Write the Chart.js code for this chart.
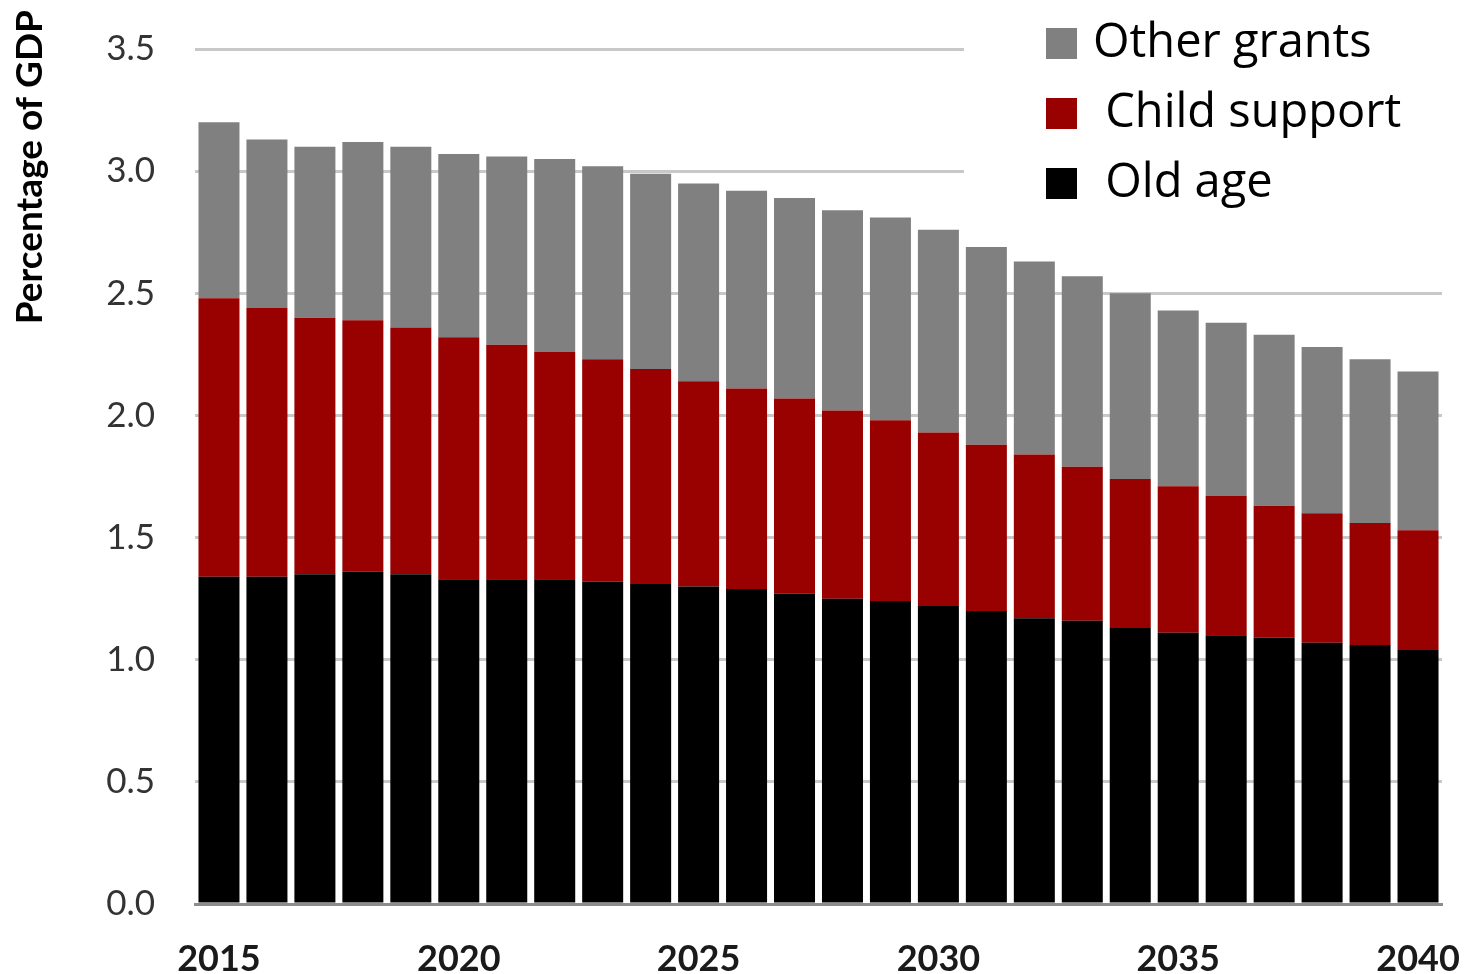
<!DOCTYPE html>
<html>
<head>
<meta charset="utf-8">
<script src="https://cdn.jsdelivr.net/npm/chart.js@4/dist/chart.umd.min.js"></script>
<style>
  body { margin: 0; background: #fff; }
  #wrap { width: 1476px; height: 974px; }
</style>
</head>
<body>
<div id="wrap"><canvas id="grantsChart"></canvas></div>
<script>
const years = [2015, 2016, 2017, 2018, 2019, 2020, 2021, 2022, 2023, 2024, 2025, 2026, 2027,
  2028, 2029, 2030, 2031, 2032, 2033, 2034, 2035, 2036, 2037, 2038, 2039, 2040];
const oldAge = [1.34, 1.34, 1.35, 1.36, 1.35, 1.33, 1.33, 1.33, 1.32, 1.31, 1.30, 1.29, 1.27,
  1.25, 1.24, 1.22, 1.20, 1.17, 1.16, 1.13, 1.11, 1.10, 1.09, 1.07, 1.06, 1.04];
const childSupport = [1.14, 1.10, 1.05, 1.03, 1.01, 0.99, 0.96, 0.93, 0.91, 0.88, 0.84, 0.82, 0.80,
  0.77, 0.74, 0.71, 0.68, 0.67, 0.63, 0.61, 0.60, 0.57, 0.54, 0.53, 0.50, 0.49];
const otherGrants = [0.72, 0.69, 0.70, 0.73, 0.74, 0.75, 0.77, 0.79, 0.79, 0.80, 0.81, 0.81, 0.82,
  0.82, 0.83, 0.83, 0.81, 0.79, 0.78, 0.76, 0.72, 0.71, 0.70, 0.68, 0.67, 0.65];
const yTicks = [0, 0.5, 1.0, 1.5, 2.0, 2.5, 3.0, 3.5];
const xLabelEvery = 5;

const font = "Lato";

// legend drawn by hand so it can sit in the top-right corner over the grid
const cornerLegend = {
  id: "cornerLegend",
  beforeDatasetsDraw(chart) {
    const ctx = chart.ctx;
    ctx.save();
    ctx.fillStyle = "#fff";
    ctx.fillRect(964, 0, chart.width - 964, 232);
    ctx.restore();
  },
  afterDraw(chart) {
    const ctx = chart.ctx;
    const sets = chart.data.datasets.slice().reverse();
    ctx.save();
    ctx.font = "47px 'Open Sans'";
    ctx.textBaseline = "middle";
    sets.forEach(function(ds, i) {
      const y = 44 + i * 70;
      ctx.fillStyle = ds.backgroundColor;
      ctx.fillRect(1046, y - 16, 31, 31);
      ctx.fillStyle = "#000";
      ctx.fillText(ds.legendText, 1093, y);
    });
    ctx.restore();
  }
};

const ctx = document.getElementById("grantsChart").getContext("2d");
const chart = new Chart(ctx, {
  type: "bar",
  data: {
    labels: years,
    datasets: [
      { label: "Old age", legendText: " Old age", data: oldAge, backgroundColor: "#000000" },
      { label: "Child support", legendText: " Child support", data: childSupport, backgroundColor: "#990000" },
      { label: "Other grants", legendText: "Other grants", data: otherGrants, backgroundColor: "#808080" }
    ]
  },
  options: {
    responsive: true,
    maintainAspectRatio: false,
    animation: false,
    layout: { padding: { top: 10, right: 34, left: 0, bottom: 0 } },
    datasets: { bar: { categoryPercentage: 1, barPercentage: 0.855 } },
    plugins: {
      legend: { display: false },
      tooltip: { enabled: false }
    },
    scales: {
      x: {
        stacked: true,
        grid: { display: false, drawTicks: false },
        border: { display: true, color: "#8c8c8c", width: 3 },
        ticks: {
          autoSkip: false,
          maxRotation: 0,
          padding: 34,
          color: "#1a1a1a",
          font: { family: font, size: 36, weight: "bold" },
          callback: function(v, i) { return i % xLabelEvery === 0 ? years[i] : ""; }
        },
        afterFit: function(s) { s.height = 70; s.paddingLeft = 0; s.paddingRight = 0; }
      },
      y: {
        stacked: true,
        min: 0,
        max: 3.66,
        afterBuildTicks: function(s) { s.ticks = yTicks.map(v => ({ value: v })); },
        grid: { color: "#c8c8c8", lineWidth: 3, drawTicks: false },
        border: { display: false },
        ticks: {
          padding: 40,
          color: "#333333",
          font: { family: font, size: 35 },
          callback: function(v) { return v.toFixed(1); }
        },
        title: {
          display: true,
          text: "Percentage of GDP",
          align: "end",
          color: "#000",
          font: { family: font, size: 37, weight: "bold" },
          padding: { top: 8, bottom: 0 }
        },
        afterFit: function(s) { s.width = 195; s.paddingTop = 0; s.paddingBottom = 0; }
      }
    }
  },
  plugins: [cornerLegend]
});
</script>
</body>
</html>
